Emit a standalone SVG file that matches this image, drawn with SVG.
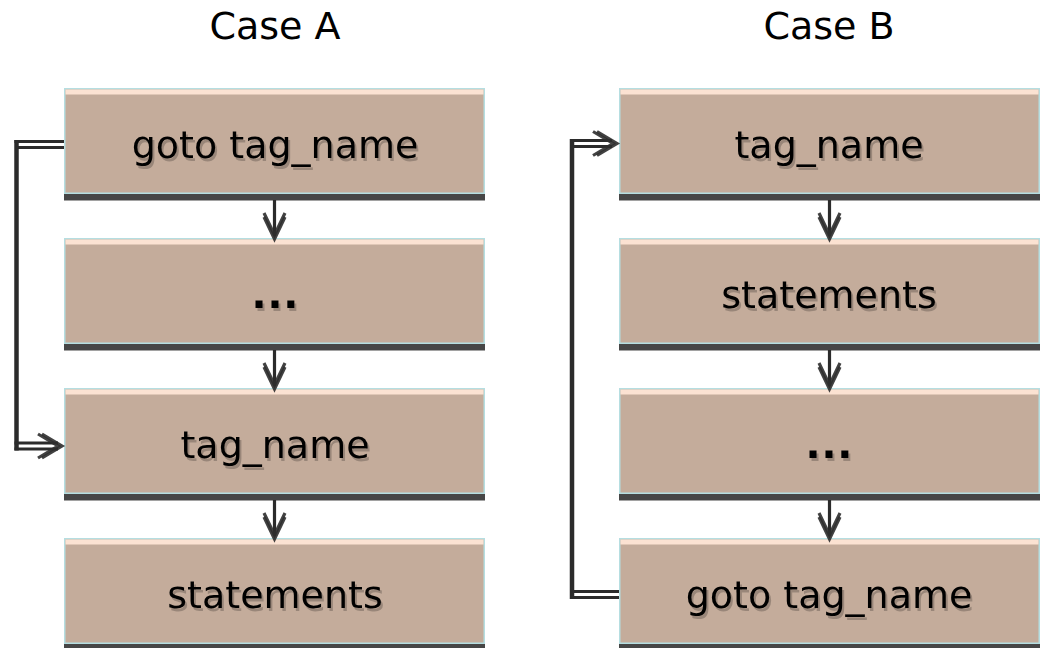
<svg xmlns="http://www.w3.org/2000/svg" width="1041" height="648" viewBox="0 0 1041 648">
  <style>
    .title { font-family: "DejaVu Sans", "Liberation Sans", sans-serif; font-size: 38px; fill: #000; text-anchor: middle; }
    .label { font-family: "DejaVu Sans", "Liberation Sans", sans-serif; font-size: 38px; fill: #000; text-anchor: middle; filter: url(#sh); }
    .dots { font-family: "Liberation Sans", "DejaVu Sans", sans-serif; font-size: 50px; font-weight: bold; }
    .body { fill: #c4ac9b; stroke: #b5dee1; stroke-width: 1.5; }
    .band { fill: #fbe2d2; }
    .base { fill: #464646; }
    .wire { stroke: #2b2b2b; fill: none; stroke-linecap: butt; }
    .dbl { stroke-width: 3.2; }
    .solid { stroke-width: 4.5; }
    .head { stroke: #2e2e2e; stroke-width: 3.2; fill: none; stroke-opacity: 0.9; stroke-linejoin: miter; }
  </style>
  <defs>
    <!-- soft offset shadow under box labels -->
    <filter id="sh" x="-10%" y="-30%" width="120%" height="160%">
      <feDropShadow dx="2" dy="3" stdDeviation="0.6" flood-color="#000" flood-opacity="0.22"/>
    </filter>
    <!-- one step box: tan body, peach top band, dark base bar -->
    <g id="step">
      <rect class="body" x="0.75" y="0.75" width="419.5" height="104.5"/>
      <rect class="band" x="1.5" y="1.5" width="418" height="5"/>
      <rect class="base" x="0" y="106" width="421" height="6.5"/>
    </g>
    <!-- downward chevron, drawn twice for a double-line look -->
    <g id="down">
      <polyline class="head" points="-10.5,-22 0,0 10.5,-22"/>
      <polyline class="head" points="-10.5,-26 0,-4 10.5,-26"/>
    </g>
    <!-- rightward chevron -->
    <g id="right">
      <polyline class="head" points="-20,-12 0,0 -20,12"/>
      <polyline class="head" points="-24,-12 -4,0 -24,12"/>
    </g>
  </defs>

  <g id="titles">
    <text class="title" x="275" y="39">Case A</text>
    <text class="title" x="829" y="39">Case B</text>
  </g>

  <!-- Case A column -->
  <g id="a1">
    <use href="#step" x="64" y="88"/>
    <text class="label" x="275" y="158">goto tag_name</text>
  </g>
  <g id="a2">
    <use href="#step" x="64" y="238"/>
    <text class="label dots" x="275" y="308">…</text>
  </g>
  <g id="a3">
    <use href="#step" x="64" y="388"/>
    <text class="label" x="275" y="458">tag_name</text>
  </g>
  <g id="a4">
    <use href="#step" x="64" y="538"/>
    <text class="label" x="275" y="608">statements</text>
  </g>

  <!-- Case B column -->
  <g id="b1">
    <use href="#step" x="619" y="88"/>
    <text class="label" x="829" y="158">tag_name</text>
  </g>
  <g id="b2">
    <use href="#step" x="619" y="238"/>
    <text class="label" x="829" y="308">statements</text>
  </g>
  <g id="b3">
    <use href="#step" x="619" y="388"/>
    <text class="label dots" x="829" y="458">…</text>
  </g>
  <g id="b4">
    <use href="#step" x="619" y="538"/>
    <text class="label" x="829" y="608">goto tag_name</text>
  </g>

  <g id="connectors">
    <!-- Case A straight flow -->
    <line class="wire" x1="274.5" y1="200" x2="274.5" y2="236" stroke-width="3.2"/>
    <use href="#down" x="274.5" y="239"/>
    <line class="wire" x1="274.5" y1="350" x2="274.5" y2="386" stroke-width="3.2"/>
    <use href="#down" x="274.5" y="389"/>
    <line class="wire" x1="274.5" y1="500" x2="274.5" y2="536" stroke-width="3.2"/>
    <use href="#down" x="274.5" y="539"/>

    <!-- Case A jump: goto -> tag_name -->
    <line class="wire dbl" x1="64" y1="141.5" x2="14.5" y2="141.5"/>
    <line class="wire dbl" x1="64" y1="147.5" x2="18" y2="147.5"/>
    <line class="wire solid" x1="16.5" y1="140" x2="16.5" y2="450.5"/>
    <line class="wire dbl" x1="14.5" y1="443" x2="58" y2="443"/>
    <line class="wire dbl" x1="14.5" y1="449" x2="58" y2="449"/>
    <use href="#right" x="62" y="446"/>

    <!-- Case B straight flow -->
    <line class="wire" x1="829.5" y1="200" x2="829.5" y2="236" stroke-width="3.2"/>
    <use href="#down" x="829.5" y="239"/>
    <line class="wire" x1="829.5" y1="350" x2="829.5" y2="386" stroke-width="3.2"/>
    <use href="#down" x="829.5" y="389"/>
    <line class="wire" x1="829.5" y1="500" x2="829.5" y2="536" stroke-width="3.2"/>
    <use href="#down" x="829.5" y="539"/>

    <!-- Case B jump: goto -> tag_name -->
    <line class="wire dbl" x1="619" y1="591.5" x2="574" y2="591.5"/>
    <line class="wire dbl" x1="619" y1="597.5" x2="570" y2="597.5"/>
    <line class="wire solid" x1="572" y1="599" x2="572" y2="139"/>
    <line class="wire dbl" x1="570" y1="140.5" x2="612" y2="140.5"/>
    <line class="wire dbl" x1="574" y1="146.5" x2="612" y2="146.5"/>
    <use href="#right" x="617" y="143.5"/>
  </g>
</svg>
